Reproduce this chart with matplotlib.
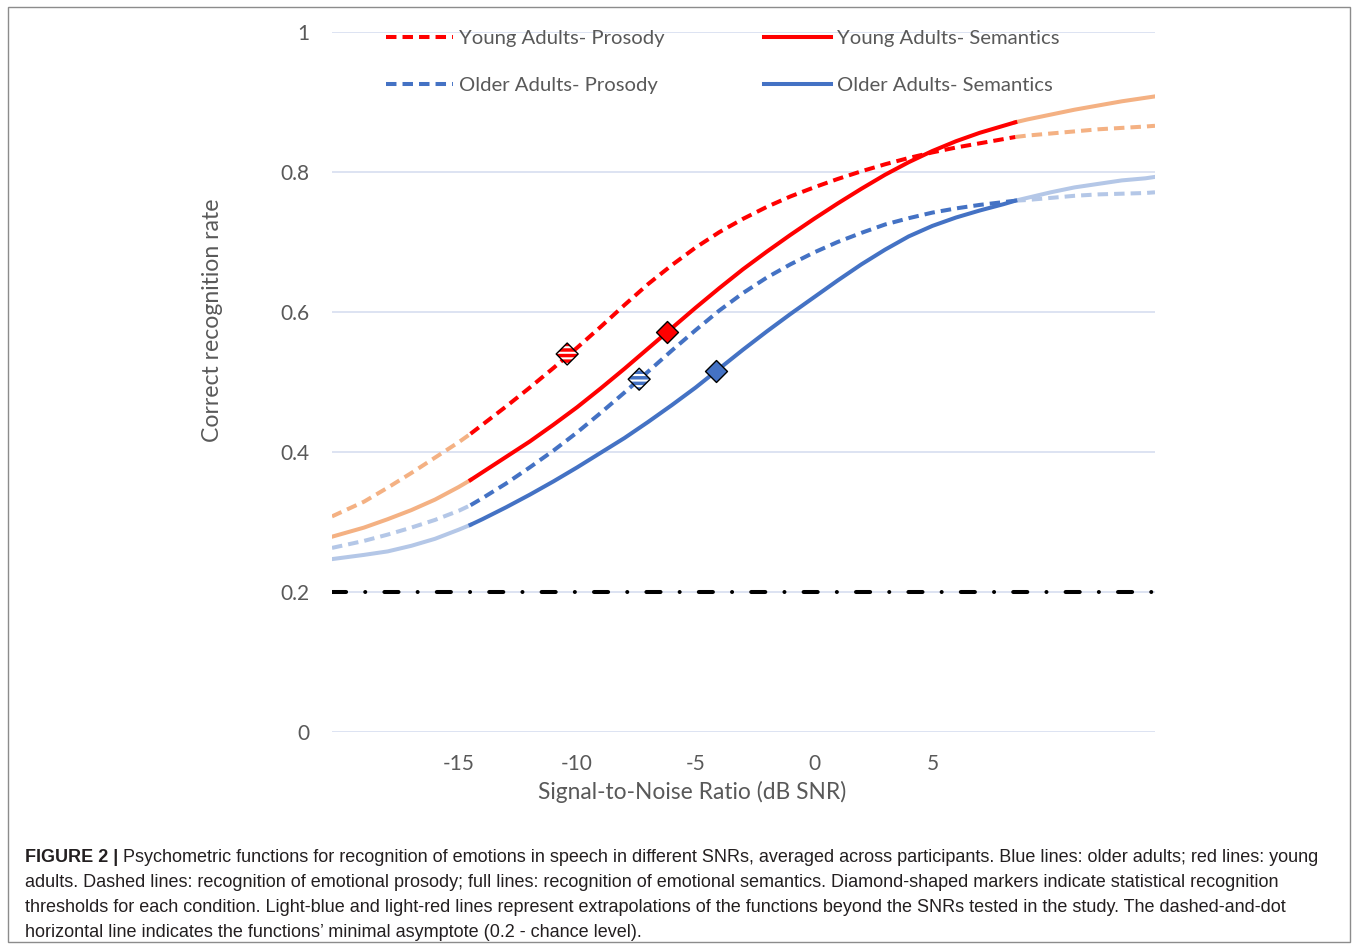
import matplotlib
matplotlib.use("Agg")
import matplotlib.pyplot as plt
import matplotlib.patches as patches
from matplotlib.lines import Line2D
import numpy as np

snr = [-20.35, -19, -18, -17, -16, -15, -14.5, -14, -13, -12, -11, -10, -9, -8, -7, -6,
       -5, -4, -3, -2, -1, 0, 1, 2, 3, 4, 5, 6, 7, 8, 8.5, 9, 10, 11, 12, 13, 14, 14.4]

young_prosody = [0.308, 0.329, 0.349, 0.370, 0.392, 0.414, 0.426, 0.439, 0.465, 0.492,
                 0.520, 0.549, 0.579, 0.610, 0.640, 0.667, 0.692, 0.714, 0.733, 0.750,
                 0.765, 0.778, 0.790, 0.801, 0.811, 0.820, 0.828, 0.835, 0.841, 0.847,
                 0.850, 0.852, 0.855, 0.858, 0.861, 0.863, 0.865, 0.866]
young_semantics = [0.279, 0.292, 0.304, 0.317, 0.332, 0.350, 0.360, 0.371, 0.393, 0.415,
                   0.439, 0.464, 0.491, 0.519, 0.548, 0.577, 0.606, 0.634, 0.661, 0.686,
                   0.710, 0.733, 0.755, 0.776, 0.796, 0.814, 0.830, 0.844, 0.856, 0.866,
                   0.871, 0.875, 0.882, 0.889, 0.895, 0.901, 0.906, 0.908]
older_prosody = [0.263, 0.273, 0.282, 0.292, 0.303, 0.316, 0.324, 0.334, 0.355, 0.378,
                 0.402, 0.428, 0.456, 0.485, 0.515, 0.545, 0.574, 0.602, 0.627, 0.649,
                 0.668, 0.685, 0.700, 0.713, 0.725, 0.734, 0.742, 0.748, 0.753, 0.757,
                 0.759, 0.760, 0.763, 0.766, 0.768, 0.769, 0.770, 0.771]
older_semantics = [0.247, 0.253, 0.258, 0.266, 0.276, 0.289, 0.296, 0.304, 0.321, 0.339,
                   0.358, 0.378, 0.399, 0.420, 0.443, 0.467, 0.492, 0.519, 0.546, 0.572,
                   0.597, 0.621, 0.645, 0.668, 0.689, 0.708, 0.723, 0.735, 0.745, 0.754,
                   0.759, 0.763, 0.771, 0.778, 0.783, 0.788, 0.791, 0.793]

# range of SNRs actually tested (outside = extrapolation)
tested_lo, tested_hi = -14.5, 8.5

# recognition thresholds (diamond markers)
thr_young_prosody = (-10.42, 0.540)
thr_young_semantics = (-6.20, 0.572)
thr_older_prosody = (-7.38, 0.504)
thr_older_semantics = (-4.13, 0.516)

chance_level = 0.2

xtick_vals = [-15, -10, -5, 0, 5]
xtick_labels = ["-15", "-10", "-5", "0", "5"]
ytick_vals = [0, 0.2, 0.4, 0.6, 0.8, 1.0]
ytick_labels = ["0", "0.2", "0.4", "0.6", "0.8", "1"]

RED = "#FF0000"
BLUE = "#4472C4"
LIGHT_RED = "#F4B183"
LIGHT_BLUE = "#B4C7E7"
TXT = "#595959"
DASH = (0, (2.6, 1.5))
LW = 2.9

plt.rcParams["hatch.color"] = "white"
plt.rcParams["hatch.linewidth"] = 1.5

W, H = 1357, 947
fig = plt.figure(figsize=(W / 100, H / 100), dpi=100)
ax = fig.add_axes([332 / W, 1 - 732 / H, (1155 - 332) / W, 700 / H])


def draw_curve(ys, color, light, ls):
    x = np.array(snr)
    y = np.array(ys)
    lo = x <= tested_lo
    hi = x >= tested_hi
    mid = (x >= tested_lo) & (x <= tested_hi)
    ax.plot(x[lo], y[lo], color=light, lw=LW, ls=ls, solid_joinstyle="round", zorder=3)
    ax.plot(x[hi], y[hi], color=light, lw=LW, ls=ls, solid_joinstyle="round", zorder=3)
    ax.plot(x[mid], y[mid], color=color, lw=LW, ls=ls, solid_joinstyle="round", zorder=4)


draw_curve(older_semantics, BLUE, LIGHT_BLUE, "-")
draw_curve(older_prosody, BLUE, LIGHT_BLUE, DASH)
draw_curve(young_semantics, RED, LIGHT_RED, "-")
draw_curve(young_prosody, RED, LIGHT_RED, DASH)

# threshold markers: plain for semantics, patterned for prosody
for (tx, ty), col in [(thr_young_semantics, RED), (thr_older_semantics, BLUE)]:
    ax.scatter([tx], [ty], s=125, marker="D", facecolor=col, edgecolor="black",
               linewidth=1, zorder=6)
for (tx, ty), col in [(thr_young_prosody, RED), (thr_older_prosody, BLUE)]:
    ax.scatter([tx], [ty], s=125, marker="D", facecolor=col, edgecolor="white",
               linewidth=0, hatch="---", zorder=6)
    ax.scatter([tx], [ty], s=125, marker="D", facecolor="none", edgecolor="black",
               linewidth=1, zorder=7)

# chance level
ax.axhline(chance_level, color="black", lw=2.9, ls=(0, (3.5, 4.75, 0.01, 4.75)),
           dash_capstyle="round", zorder=5)

ax.set_xlim(-20.35, 14.4)
ax.set_ylim(0, 1)
ax.set_xticks(xtick_vals)
ax.set_xticklabels(xtick_labels)
ax.set_yticks(ytick_vals)
ax.set_yticklabels(ytick_labels)
ax.grid(axis="y", color="#D3DBEF", lw=1.1, zorder=0)
ax.set_axisbelow(True)
for s in ax.spines.values():
    s.set_visible(False)
ax.tick_params(length=0, labelsize=15, labelcolor=TXT)
ax.tick_params(axis="y", pad=16)
ax.tick_params(axis="x", pad=16)
for lab in ax.get_xticklabels() + ax.get_yticklabels():
    lab.set_fontfamily("Lato")

fig.text(212 / W, 1 - 320 / H, "Correct recognition rate", rotation=90, ha="center",
         va="center", fontsize=16.6, color=TXT, family="Lato")
fig.text(692 / W, 1 - 792 / H, "Signal-to-Noise Ratio (dB SNR)", ha="center",
         va="center", fontsize=16.4, color=TXT, family="Lato")

handles = [
    Line2D([], [], color=RED, lw=LW, ls=DASH),
    Line2D([], [], color=BLUE, lw=LW, ls=DASH),
    Line2D([], [], color=RED, lw=LW),
    Line2D([], [], color=BLUE, lw=LW),
]
labels = ["Young Adults- Prosody", "Older Adults- Prosody",
          "Young Adults- Semantics", "Older Adults- Semantics"]
leg = ax.legend(handles, labels, ncol=2, loc="upper left", frameon=False,
                bbox_to_anchor=(386 / W, 1 - 30 / H), bbox_transform=fig.transFigure,
                borderpad=0, borderaxespad=0, handlelength=3.3, handletextpad=0.3,
                columnspacing=4.9, labelspacing=1.45,
                prop={"family": "Lato", "size": 14.6})
for t in leg.get_texts():
    t.set_color(TXT)

# frame around the whole figure
fig.add_artist(patches.Rectangle((8 / W, 1 - 942 / H), (1350 - 8) / W, (942 - 7) / H,
                                 transform=fig.transFigure, fill=False,
                                 edgecolor="#8C8C8C", lw=1))

# caption
cap_font = {"family": "Liberation Sans", "size": 13.0, "color": "#231F20"}
cap_lines = [
    "Psychometric functions for recognition of emotions in speech in different SNRs, averaged across participants. Blue lines: older adults; red lines: young",
    "adults. Dashed lines: recognition of emotional prosody; full lines: recognition of emotional semantics. Diamond-shaped markers indicate statistical recognition",
    "thresholds for each condition. Light-blue and light-red lines represent extrapolations of the functions beyond the SNRs tested in the study. The dashed-and-dot",
    "horizontal line indicates the functions\u2019 minimal asymptote (0.2 - chance level).",
]
base_y = [862, 887, 912, 937]
renderer = fig.canvas.get_renderer()
bold = fig.text(25 / W, 1 - base_y[0] / H, "FIGURE 2 |", va="baseline", ha="left",
                fontweight="bold", **cap_font)
bx = bold.get_window_extent(renderer).x1
fig.text((bx + 5) / W, 1 - base_y[0] / H, cap_lines[0], va="baseline", ha="left", **cap_font)
for line, by in zip(cap_lines[1:], base_y[1:]):
    fig.text(25 / W, 1 - by / H, line, va="baseline", ha="left", **cap_font)

fig.savefig("out.png", dpi=100, facecolor="white")
